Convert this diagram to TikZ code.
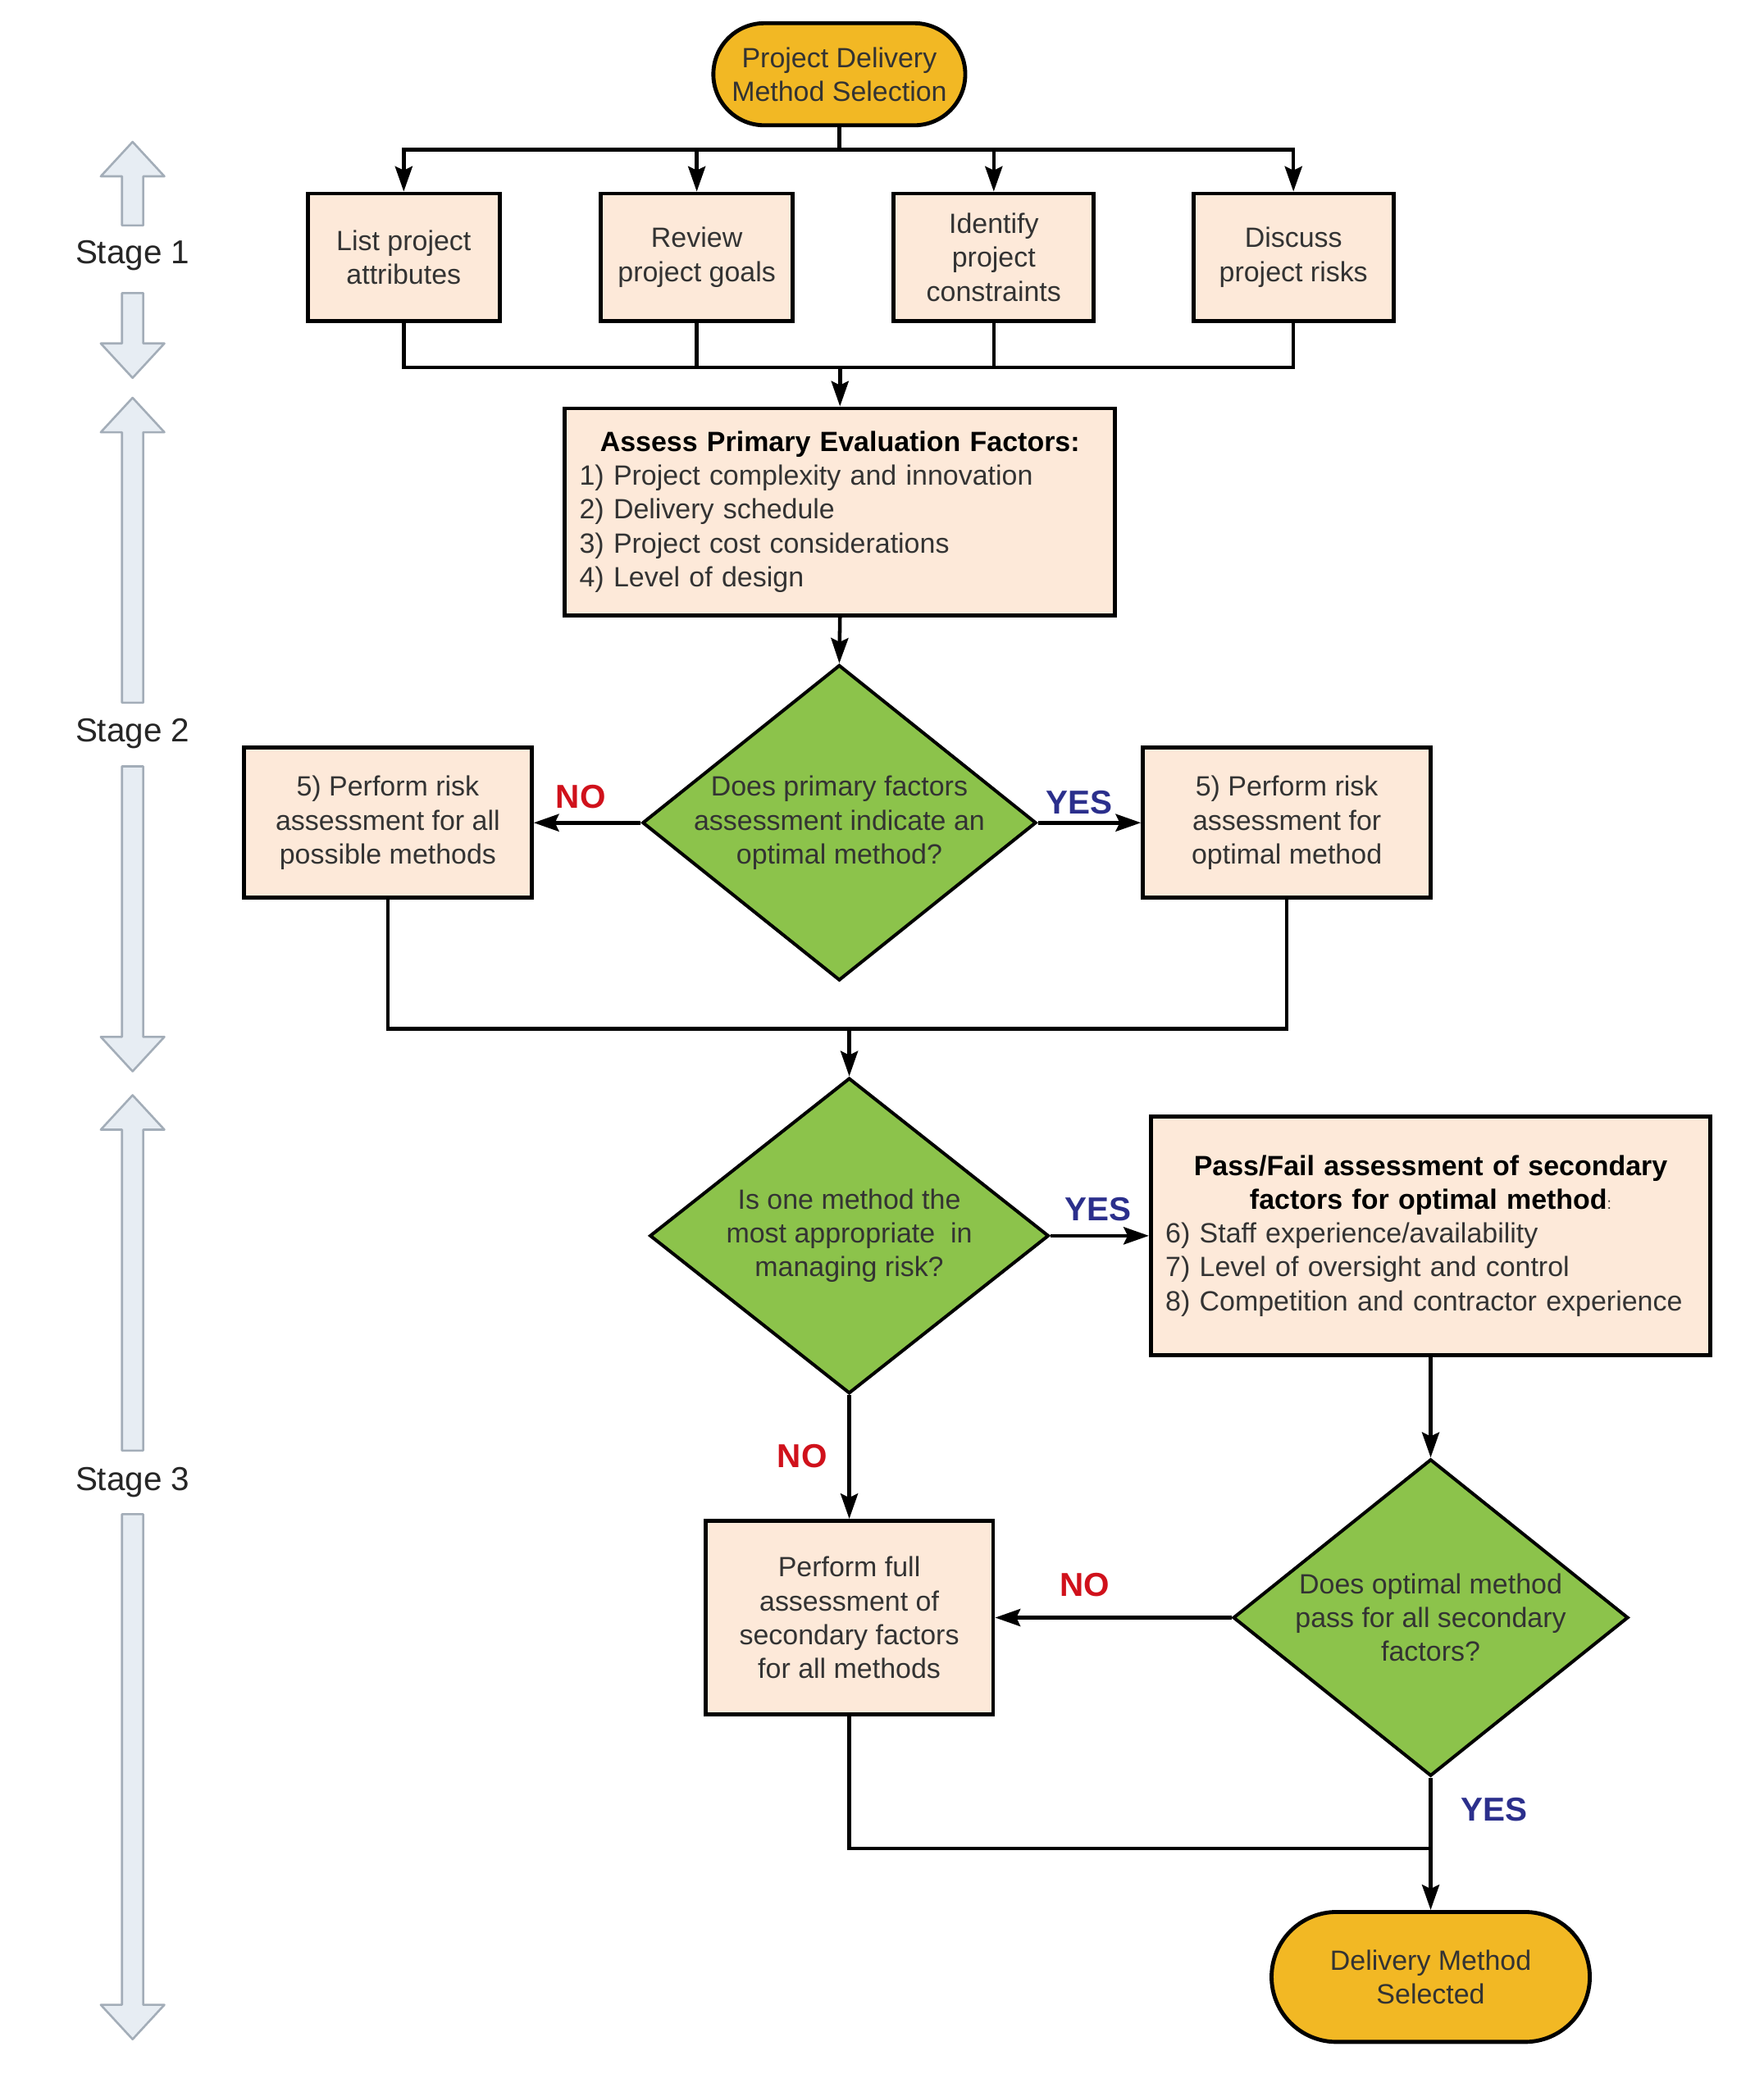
\documentclass[tikz,border=0pt]{standalone}
\usepackage{fontspec}
\setmainfont{Liberation Sans}
\usetikzlibrary{shapes.geometric,shapes.misc,arrows.meta}
\definecolor{peach}{HTML}{FDE9D9}
\definecolor{gold}{HTML}{F2B824}
\definecolor{leaf}{HTML}{8CC34B}
\definecolor{txt}{HTML}{333333}
\definecolor{nored}{HTML}{D0111B}
\definecolor{yesblue}{HTML}{2B2F8C}
\definecolor{arrfill}{HTML}{E7EDF3}
\definecolor{arrgray}{HTML}{A3ADB8}
\tikzset{
  box/.style={draw=black, line width=3pt, fill=peach, text=txt, align=center, inner sep=0pt},
  term/.style={rounded rectangle, draw=black, line width=3pt, fill=gold, text=txt, align=center, inner sep=0pt},
  dia/.style={diamond, draw=black, line width=2.5pt, fill=leaf, text=txt, align=center, inner xsep=-30pt, inner ysep=-25pt},
  line/.style={draw=black, line width=2.8pt},
  arr/.style={line, -{Stealth[length=19pt,width=13pt,inset=3pt]}},
  nolab/.style={text=nored, font=\fontsize{25}{28}\selectfont\bfseries},
  yeslab/.style={text=yesblue, font=\fontsize{25}{28}\selectfont\bfseries},
  stagelab/.style={text=black!85, font=\fontsize{25}{28}\selectfont},
  stagearr/.style={draw=arrgray, fill=arrfill, line width=1.6pt, line join=round}
}
\newcommand\stageuparrow[2]{%
  \draw[stagearr] (100,#1) -- (124,#1+26) -- (108,#1+26) -- (108,#2) -- (92,#2) -- (92,#1+26) -- (76,#1+26) -- cycle;}
\newcommand\stagedownarrow[2]{%
  \draw[stagearr] (92,#1) -- (108,#1) -- (108,#2-26) -- (124,#2-26) -- (100,#2) -- (76,#2-26) -- (92,#2-26) -- cycle;}
\begin{document}
\begin{tikzpicture}[x=1pt,y=-1pt,font=\fontsize{21}{25.5}\selectfont]
\useasboundingbox[fill=white] (0,0) rectangle (1330,1571);

% stage arrows and labels
\stageuparrow{107}{170}
\node[stagelab] (s1) at (100,193) {Stage 1};
\stagedownarrow{221}{285}
\stageuparrow{300}{530}
\node[stagelab] (s2) at (100,553) {Stage 2};
\stagedownarrow{578}{808}
\stageuparrow{826}{1094}
\node[stagelab] (s3) at (100,1118) {Stage 3};
\stagedownarrow{1142}{1538}

% nodes
\node[term, minimum width=190pt, minimum height=77pt] (start) at (633,56) {Project Delivery\\Method Selection};

\node[box, minimum width=145pt, minimum height=96pt] (b1) at (304.5,194) {List project\\attributes};
\node[box, minimum width=145pt, minimum height=96pt] (b2) at (525.5,194) {Review\\project goals};
\node[box, minimum width=151pt, minimum height=96pt] (b3) at (749.5,194) {Identify\\project\\constraints};
\node[box, minimum width=151pt, minimum height=96pt] (b4) at (975.5,194) {Discuss\\project risks};

\node[box, minimum width=415pt, minimum height=156pt, text width=393pt, align=left] (assess) at (633.5,386)
 {\makebox[\linewidth][c]{\textcolor{black}{\bfseries Assess Primary Evaluation Factors:}}\\
  1) Project complexity and innovation\\
  2) Delivery schedule\\
  3) Project cost considerations\\
  4) Level of design};

\node[dia, minimum width=297pt, minimum height=238pt] (d1) at (633,620.5) {Does primary factors\\assessment indicate an\\optimal method?};

\node[box, minimum width=217pt, minimum height=113pt] (riskall) at (292.5,620.5) {5) Perform risk\\assessment for all\\possible methods};
\node[box, minimum width=217pt, minimum height=113pt] (riskopt) at (970.5,620.5) {5) Perform risk\\assessment for\\optimal method};

\node[dia, minimum width=301pt, minimum height=238pt] (d2) at (640.5,932) {Is one method the\\most appropriate\ \ in\\managing risk?};

\node[box, minimum width=422pt, minimum height=180pt, text width=400pt, align=left] (pf) at (1079,932)
 {\makebox[\linewidth][c]{\textcolor{black}{\bfseries Pass/Fail assessment of secondary}}\\
  \makebox[\linewidth][c]{\textcolor{black}{\bfseries factors for optimal method}\fontsize{12}{12}\selectfont:}\\
  6) Staff experience/availability\\
  7) Level of oversight and control\\
  8) Competition and contractor experience};

\node[box, minimum width=217pt, minimum height=146pt] (full) at (640.5,1220) {Perform full\\assessment of\\secondary factors\\for all methods};

\node[dia, minimum width=298pt, minimum height=239pt] (d3) at (1079,1220) {Does optimal method\\pass for all secondary\\factors?};

\node[term, minimum width=240pt, minimum height=98pt] (end) at (1079,1491) {Delivery Method\\Selected};

% connectors
\draw[arr] (start.south) -- ++(0,17) -| (b1.north);
\draw[arr] (start.south) -- ++(0,17) -| (b2.north);
\draw[arr] (start.south) -- ++(0,17) -| (b3.north);
\draw[arr] (start.south) -- ++(0,17) -| (b4.north);

\coordinate (m1) at (633.5,277);
\draw[line] (b1.south) |- (m1);
\draw[line] (b4.south) |- (m1);
\draw[line] (b2.south) -- (b2.south |- m1);
\draw[line] (b3.south) -- (b3.south |- m1);
\draw[arr] (m1) -- (assess.north);

\draw[arr] (assess.south) -- (d1.north);
\draw[arr] (d1.west) -- (riskall.east);
\draw[arr] (d1.east) -- (riskopt.west);
\node[nolab] (no1) at (438,601) {NO};
\node[yeslab] (yes1) at (814,605) {YES};

\coordinate (m2) at (640.5,776);
\draw[line] (riskall.south) |- (m2);
\draw[line] (riskopt.south) |- (m2);
\draw[arr] (m2) -- (d2.north);

\draw[arr] (d2.east) -- (pf.west);
\node[yeslab] (yes2) at (828,912) {YES};
\draw[arr] (d2.south) -- (full.north);
\node[nolab] (no2) at (605,1098) {NO};

\draw[arr] (pf.south) -- (d3.north);
\draw[arr] (d3.west) -- (full.east);
\node[nolab] (no3) at (818,1195) {NO};

\coordinate (m3) at (1079,1394);
\draw[arr] (d3.south) -- (end.north);
\node[yeslab] (yes3) at (1127,1365) {YES};
\draw[line] (full.south) |- (m3);
\end{tikzpicture}
\end{document}
